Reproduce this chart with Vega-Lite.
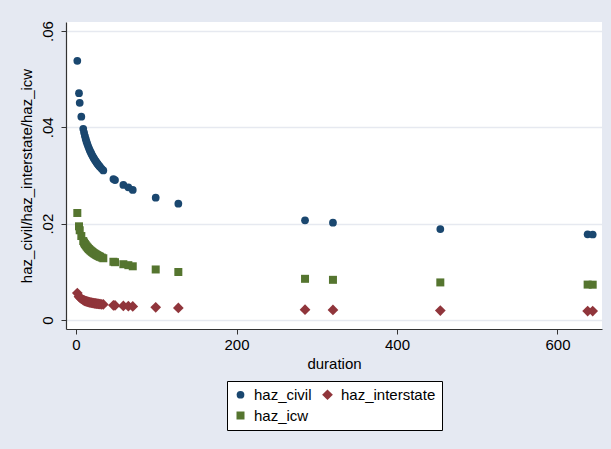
{
  "$schema": "https://vega.github.io/schema/vega-lite/v6.json",
  "width": 536,
  "height": 307,
  "autosize": {"type": "none"},
  "padding": {"left": 66, "top": 22, "right": 9, "bottom": 120},
  "background": "#e5e9f2",
  "config": {
    "font": "Liberation Sans",
    "view": {"fill": "white", "stroke": null}
  },
  "data": {
    "values": [
      {"duration": 1.6, "haz_civil": 0.0538, "haz_interstate": 0.0056, "haz_icw": 0.02222},
      {"duration": 3.7, "haz_civil": 0.0471, "haz_interstate": 0.0049, "haz_icw": 0.01945},
      {"duration": 4.6, "haz_civil": 0.0451, "haz_interstate": 0.00469, "haz_icw": 0.01863},
      {"duration": 6.6, "haz_civil": 0.0422, "haz_interstate": 0.00439, "haz_icw": 0.01743},
      {"duration": 9, "haz_civil": 0.03969, "haz_interstate": 0.00413, "haz_icw": 0.01639},
      {"duration": 10, "haz_civil": 0.03892, "haz_interstate": 0.00405, "haz_icw": 0.01607},
      {"duration": 11, "haz_civil": 0.03824, "haz_interstate": 0.00398, "haz_icw": 0.01579},
      {"duration": 12, "haz_civil": 0.03764, "haz_interstate": 0.00391, "haz_icw": 0.01555},
      {"duration": 13, "haz_civil": 0.03708, "haz_interstate": 0.00386, "haz_icw": 0.01531},
      {"duration": 14, "haz_civil": 0.03658, "haz_interstate": 0.0038, "haz_icw": 0.01511},
      {"duration": 15, "haz_civil": 0.03611, "haz_interstate": 0.00376, "haz_icw": 0.01491},
      {"duration": 16, "haz_civil": 0.03569, "haz_interstate": 0.00371, "haz_icw": 0.01474},
      {"duration": 17, "haz_civil": 0.03529, "haz_interstate": 0.00367, "haz_icw": 0.01457},
      {"duration": 18, "haz_civil": 0.03492, "haz_interstate": 0.00363, "haz_icw": 0.01442},
      {"duration": 19, "haz_civil": 0.03457, "haz_interstate": 0.0036, "haz_icw": 0.01428},
      {"duration": 20, "haz_civil": 0.03425, "haz_interstate": 0.00356, "haz_icw": 0.01415},
      {"duration": 21, "haz_civil": 0.03394, "haz_interstate": 0.00353, "haz_icw": 0.01402},
      {"duration": 22, "haz_civil": 0.03364, "haz_interstate": 0.0035, "haz_icw": 0.01389},
      {"duration": 23, "haz_civil": 0.03337, "haz_interstate": 0.00347, "haz_icw": 0.01378},
      {"duration": 24, "haz_civil": 0.03311, "haz_interstate": 0.00344, "haz_icw": 0.01367},
      {"duration": 25, "haz_civil": 0.03286, "haz_interstate": 0.00342, "haz_icw": 0.01357},
      {"duration": 26, "haz_civil": 0.03262, "haz_interstate": 0.00339, "haz_icw": 0.01347},
      {"duration": 27, "haz_civil": 0.03239, "haz_interstate": 0.00337, "haz_icw": 0.01338},
      {"duration": 28, "haz_civil": 0.03217, "haz_interstate": 0.00335, "haz_icw": 0.01329},
      {"duration": 29, "haz_civil": 0.03197, "haz_interstate": 0.00332, "haz_icw": 0.0132},
      {"duration": 30, "haz_civil": 0.03177, "haz_interstate": 0.0033, "haz_icw": 0.01312},
      {"duration": 32, "haz_civil": 0.03139, "haz_interstate": 0.00326, "haz_icw": 0.01296},
      {"duration": 34, "haz_civil": 0.03104, "haz_interstate": 0.00323, "haz_icw": 0.01282},
      {"duration": 46.6, "haz_civil": 0.02927, "haz_interstate": 0.00304, "haz_icw": 0.01209},
      {"duration": 48.6, "haz_civil": 0.02906, "haz_interstate": 0.00302, "haz_icw": 0.012},
      {"duration": 59, "haz_civil": 0.02803, "haz_interstate": 0.00292, "haz_icw": 0.01158},
      {"duration": 65.2, "haz_civil": 0.02755, "haz_interstate": 0.00287, "haz_icw": 0.01138},
      {"duration": 70.7, "haz_civil": 0.02699, "haz_interstate": 0.00281, "haz_icw": 0.01115},
      {"duration": 99.3, "haz_civil": 0.02539, "haz_interstate": 0.00264, "haz_icw": 0.01049},
      {"duration": 127.5, "haz_civil": 0.02414, "haz_interstate": 0.00251, "haz_icw": 0.00997},
      {"duration": 285.4, "haz_civil": 0.0207, "haz_interstate": 0.00215, "haz_icw": 0.00855},
      {"duration": 320.2, "haz_civil": 0.0202, "haz_interstate": 0.0021, "haz_icw": 0.00834},
      {"duration": 454, "haz_civil": 0.01889, "haz_interstate": 0.00196, "haz_icw": 0.0078},
      {"duration": 637.6, "haz_civil": 0.01779, "haz_interstate": 0.00185, "haz_icw": 0.00735},
      {"duration": 643.9, "haz_civil": 0.01775, "haz_interstate": 0.00185, "haz_icw": 0.00733}
    ]
  },
  "transform": [
    {"fold": ["haz_civil", "haz_interstate", "haz_icw"], "as": ["series", "value"]}
  ],
  "mark": {"type": "point", "filled": true, "opacity": 1},
  "encoding": {
    "x": {
      "field": "duration",
      "type": "quantitative",
      "scale": {"domain": [-12.5, 655.5], "nice": false, "zero": false},
      "axis": {
        "values": [0, 200, 400, 600],
        "title": "duration",
        "grid": false,
        "domainColor": "#333333",
        "domainWidth": 1.2,
        "tickColor": "#333333",
        "tickSize": 5,
        "labelFontSize": 15,
        "labelColor": "black",
        "labelPadding": 3,
        "titleFontSize": 15,
        "titleFontWeight": "normal",
        "titleColor": "black",
        "titlePadding": 4
      }
    },
    "y": {
      "field": "value",
      "type": "quantitative",
      "scale": {"domain": [-0.00187, 0.06187], "nice": false, "zero": false},
      "axis": {
        "values": [0, 0.02, 0.04, 0.06],
        "labelExpr": "datum.value == 0 ? '0' : slice(format(datum.value, '.2f'), 1)",
        "title": "haz_civil/haz_interstate/haz_icw",
        "grid": true,
        "gridColor": "#e6e9f0",
        "gridWidth": 1.5,
        "domainColor": "#333333",
        "domainWidth": 1.2,
        "tickColor": "#333333",
        "tickSize": 5,
        "labelAngle": -90,
        "labelAlign": "center",
        "labelBaseline": "bottom",
        "labelFontSize": 15,
        "labelColor": "black",
        "labelPadding": 6,
        "titleFontSize": 15,
        "titleFontWeight": "normal",
        "titleColor": "black",
        "titlePadding": 6
      }
    },
    "color": {
      "field": "series",
      "type": "nominal",
      "sort": ["haz_civil", "haz_interstate", "haz_icw"],
      "scale": {"domain": ["haz_civil", "haz_interstate", "haz_icw"], "range": ["#1a476f", "#90353b", "#55752f"]},
      "legend": {
        "title": null,
        "orient": "none",
        "legendX": 161,
        "legendY": 359,
        "columns": 2,
        "direction": "horizontal",
        "fillColor": "white",
        "strokeColor": "black",
        "padding": 6,
        "columnPadding": 8,
        "rowPadding": 5,
        "labelFontSize": 15,
        "labelColor": "black",
        "labelOffset": 6,
        "symbolSize": 45
      }
    },
    "shape": {
      "field": "series",
      "type": "nominal",
      "sort": ["haz_civil", "haz_interstate", "haz_icw"],
      "scale": {"domain": ["haz_civil", "haz_interstate", "haz_icw"], "range": ["circle", "diamond", "square"]}
    },
    "size": {
      "field": "series",
      "type": "nominal",
      "scale": {"type": "ordinal", "domain": ["haz_civil", "haz_interstate", "haz_icw"], "range": [60, 115, 64]},
      "legend": null
    }
  }
}
